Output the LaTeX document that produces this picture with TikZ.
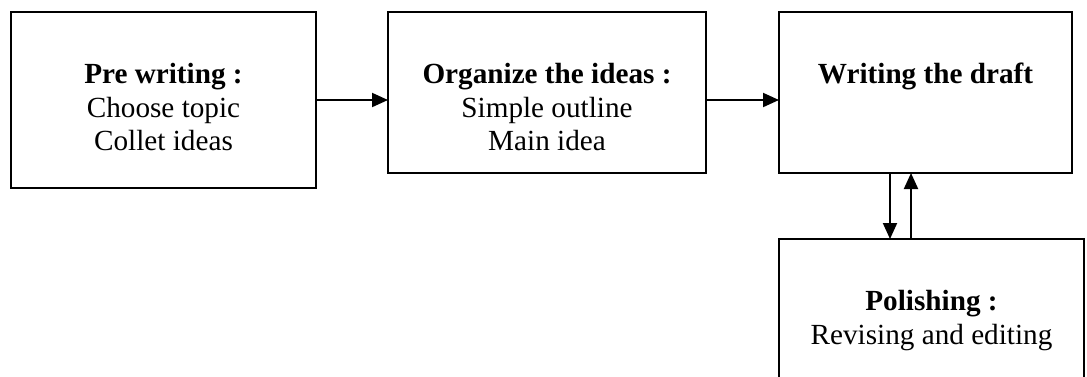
\documentclass[tikz,border=0pt]{standalone}
\usepackage{fontspec}
\setmainfont{Liberation Serif}
\usetikzlibrary{arrows.meta,positioning}
\tikzset{
  stage/.style={draw=black,line width=1pt,minimum width=152.5pt,
    minimum height=80.5pt,inner sep=0pt,outer sep=0pt},
  stagetext/.style={align=center,inner sep=0pt,
    font=\fontsize{14.6pt}{16.8pt}\selectfont},
  arrow/.style={-{Triangle[length=8pt,width=7pt]},line width=1pt}
}

\begin{document}
\begin{tikzpicture}[node distance=36pt]
      \useasboundingbox (0,0) rectangle (543.5pt,-188pt);
      \node[stage,anchor=north west,minimum height=88pt] (pre) at (5.5pt,-6pt) {};
      \node[stage,minimum width=159pt,right=of pre.north east,anchor=north west] (organize) {};
      \node[stage,minimum width=146.5pt,right=36.5pt of organize.north east,anchor=north west] (draft) {};
      \node[stage,below=33pt of draft.south west,anchor=north west,minimum height=80pt] (polish) {};

      \node[stagetext,below=25.5pt of pre.north] (pretext)
        {\textbf{Pre writing :}\\Choose topic\\Collet ideas};
      \node[stagetext,below=25.5pt of organize.north] (organizetext)
        {\textbf{Organize the ideas :}\\Simple outline\\Main idea};
      \node[stagetext,below=25.5pt of draft.north] (drafttext)
        {\textbf{Writing the draft}};
      \node[stagetext,below=25.5pt of polish.north] (polishtext)
        {\textbf{Polishing :}\\Revising and editing};

      \draw[arrow] (pre.east) -- (pre.east -| organize.west);
      \draw[arrow] (organize.east |- pre.east) -- (draft.west |- pre.east);
      \draw[arrow] ([xshift=-17.75pt]draft.south) -- ([xshift=-17.75pt]draft.south |- polish.north);
      \draw[arrow] ([xshift=-7.25pt]draft.south |- polish.north) -- ([xshift=-7.25pt]draft.south);
    \end{tikzpicture}
\end{document}
